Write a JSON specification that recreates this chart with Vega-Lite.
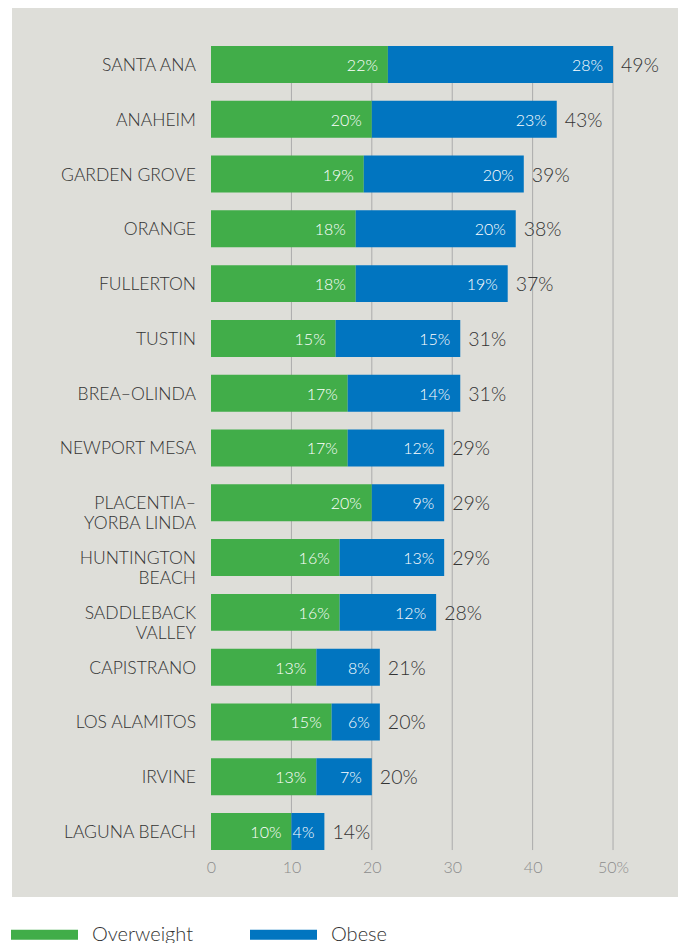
{
  "$schema": "https://vega.github.io/schema/vega-lite/v6.json",
  "width": 666,
  "height": 889,
  "padding": {"left": 11, "top": 8, "right": 3, "bottom": 0},
  "background": "white",
  "config": {"view": {"fill": "#DEDED9", "stroke": null}, "font": "Lato"},
  "datasets": {
    "bars": [
      {"city": "SANTA ANA", "group": "Overweight", "order": 1, "value": 22, "pct": "22%", "total": "49%"},
      {"city": "SANTA ANA", "group": "Obese", "order": 2, "value": 28, "pct": "28%", "total": "49%"},
      {"city": "ANAHEIM", "group": "Overweight", "order": 1, "value": 20, "pct": "20%", "total": "43%"},
      {"city": "ANAHEIM", "group": "Obese", "order": 2, "value": 23, "pct": "23%", "total": "43%"},
      {"city": "GARDEN GROVE", "group": "Overweight", "order": 1, "value": 19, "pct": "19%", "total": "39%"},
      {"city": "GARDEN GROVE", "group": "Obese", "order": 2, "value": 19.9, "pct": "20%", "total": "39%"},
      {"city": "ORANGE", "group": "Overweight", "order": 1, "value": 18, "pct": "18%", "total": "38%"},
      {"city": "ORANGE", "group": "Obese", "order": 2, "value": 19.9, "pct": "20%", "total": "38%"},
      {"city": "FULLERTON", "group": "Overweight", "order": 1, "value": 18, "pct": "18%", "total": "37%"},
      {"city": "FULLERTON", "group": "Obese", "order": 2, "value": 18.9, "pct": "19%", "total": "37%"},
      {"city": "TUSTIN", "group": "Overweight", "order": 1, "value": 15.5, "pct": "15%", "total": "31%"},
      {"city": "TUSTIN", "group": "Obese", "order": 2, "value": 15.5, "pct": "15%", "total": "31%"},
      {"city": "BREA–OLINDA", "group": "Overweight", "order": 1, "value": 17, "pct": "17%", "total": "31%"},
      {"city": "BREA–OLINDA", "group": "Obese", "order": 2, "value": 14, "pct": "14%", "total": "31%"},
      {"city": "NEWPORT MESA", "group": "Overweight", "order": 1, "value": 17, "pct": "17%", "total": "29%"},
      {"city": "NEWPORT MESA", "group": "Obese", "order": 2, "value": 12, "pct": "12%", "total": "29%"},
      {"city": "PLACENTIA–YORBA LINDA", "group": "Overweight", "order": 1, "value": 20, "pct": "20%", "total": "29%"},
      {"city": "PLACENTIA–YORBA LINDA", "group": "Obese", "order": 2, "value": 9, "pct": "9%", "total": "29%"},
      {"city": "HUNTINGTON BEACH", "group": "Overweight", "order": 1, "value": 16, "pct": "16%", "total": "29%"},
      {"city": "HUNTINGTON BEACH", "group": "Obese", "order": 2, "value": 13, "pct": "13%", "total": "29%"},
      {"city": "SADDLEBACK VALLEY", "group": "Overweight", "order": 1, "value": 16, "pct": "16%", "total": "28%"},
      {"city": "SADDLEBACK VALLEY", "group": "Obese", "order": 2, "value": 12, "pct": "12%", "total": "28%"},
      {"city": "CAPISTRANO", "group": "Overweight", "order": 1, "value": 13.1, "pct": "13%", "total": "21%"},
      {"city": "CAPISTRANO", "group": "Obese", "order": 2, "value": 7.9, "pct": "8%", "total": "21%"},
      {"city": "LOS ALAMITOS", "group": "Overweight", "order": 1, "value": 15, "pct": "15%", "total": "20%"},
      {"city": "LOS ALAMITOS", "group": "Obese", "order": 2, "value": 6, "pct": "6%", "total": "20%"},
      {"city": "IRVINE", "group": "Overweight", "order": 1, "value": 13.1, "pct": "13%", "total": "20%"},
      {"city": "IRVINE", "group": "Obese", "order": 2, "value": 6.9, "pct": "7%", "total": "20%"},
      {"city": "LAGUNA BEACH", "group": "Overweight", "order": 1, "value": 10, "pct": "10%", "total": "14%"},
      {"city": "LAGUNA BEACH", "group": "Obese", "order": 2, "value": 4.1, "pct": "4%", "total": "14%"}
    ],
    "cities": [
      {"city": "SANTA ANA", "label": "SANTA ANA"},
      {"city": "ANAHEIM", "label": "ANAHEIM"},
      {"city": "GARDEN GROVE", "label": "GARDEN GROVE"},
      {"city": "ORANGE", "label": "ORANGE"},
      {"city": "FULLERTON", "label": "FULLERTON"},
      {"city": "TUSTIN", "label": "TUSTIN"},
      {"city": "BREA–OLINDA", "label": "BREA–OLINDA"},
      {"city": "NEWPORT MESA", "label": "NEWPORT MESA"},
      {"city": "PLACENTIA–YORBA LINDA", "label": "PLACENTIA–|YORBA LINDA"},
      {"city": "HUNTINGTON BEACH", "label": "HUNTINGTON|BEACH"},
      {"city": "SADDLEBACK VALLEY", "label": "SADDLEBACK|VALLEY"},
      {"city": "CAPISTRANO", "label": "CAPISTRANO"},
      {"city": "LOS ALAMITOS", "label": "LOS ALAMITOS"},
      {"city": "IRVINE", "label": "IRVINE"},
      {"city": "LAGUNA BEACH", "label": "LAGUNA BEACH"}
    ],
    "grid": [{"g": 10}, {"g": 20}, {"g": 30}, {"g": 40}, {"g": 50}]
  },
  "layer": [
    {
      "data": {"name": "grid"},
      "mark": {"type": "rule", "color": "#ABABAB", "strokeWidth": 1},
      "encoding": {
        "x": {"field": "g", "type": "quantitative", "scale": {"domain": [-24.75, 58.08], "nice": false, "zero": false},
          "axis": {"values": [0, 10, 20, 30, 40, 50], "labelExpr": "datum.value == 50 ? '50%' : datum.label", "grid": false, "ticks": false, "domain": false, "title": null, "offset": -40, "labelPadding": 2, "labelFontSize": 16, "labelFontWeight": 300, "labelColor": "#8C8C8C", "labelFont": "Lato"}},
        "y": {"datum": "SANTA ANA", "type": "nominal", "bandPosition": 0},
        "y2": {"datum": "LAGUNA BEACH", "bandPosition": 1}
      }
    },
    {
      "data": {"name": "bars"},
      "transform": [
        {"stack": "value", "groupby": ["city"], "sort": [{"field": "order"}], "as": ["x0", "x1"]}
      ],
      "layer": [
        {
          "mark": {"type": "bar"},
          "encoding": {
            "x": {"field": "x0", "type": "quantitative"},
            "x2": {"field": "x1"},
            "y": {"field": "city", "type": "nominal", "sort": null, "scale": {"domain": ["SANTA ANA", "ANAHEIM", "GARDEN GROVE", "ORANGE", "FULLERTON", "TUSTIN", "BREA–OLINDA", "NEWPORT MESA", "PLACENTIA–YORBA LINDA", "HUNTINGTON BEACH", "SADDLEBACK VALLEY", "CAPISTRANO", "LOS ALAMITOS", "IRVINE", "LAGUNA BEACH"], "paddingInner": 0.325, "paddingOuter": 0.775, "align": 0.447}, "axis": null},
            "color": {"field": "group", "type": "nominal",
              "scale": {"domain": ["Overweight", "Obese"], "range": ["#41AD49", "#0175C0"]},
              "legend": {"orient": "none", "legendX": -1, "legendY": 893, "direction": "horizontal", "title": null, "symbolType": "M-1,-0.15H1V0.15H-1Z", "symbolSize": 4489, "symbolStrokeWidth": 0, "symbolOpacity": 1, "labelFontSize": 20, "labelFontWeight": 300, "labelColor": "#333333", "labelFont": "Lato", "labelOffset": 14, "columnPadding": 56, "padding": 0}}
          }
        },
        {
          "mark": {"type": "text", "align": "right", "baseline": "middle", "dx": -10, "dy": 1.5, "color": "white", "fontSize": 16, "fontWeight": 300},
          "encoding": {
            "x": {"field": "x1", "type": "quantitative"},
            "y": {"field": "city", "type": "nominal", "sort": null},
            "text": {"field": "pct"}
          }
        },
        {
          "transform": [{"filter": "datum.order == 2"}],
          "mark": {"type": "text", "align": "left", "baseline": "middle", "dx": 8, "dy": 1.5, "color": "#333333", "fontSize": 19.5, "fontWeight": 300},
          "encoding": {
            "x": {"field": "x1", "type": "quantitative"},
            "y": {"field": "city", "type": "nominal", "sort": null},
            "text": {"field": "total"}
          }
        }
      ]
    },
    {
      "data": {"name": "cities"},
      "mark": {"type": "text", "align": "right", "baseline": "middle", "dx": -15, "dy": 1.5, "color": "#333333", "fontSize": 17.5, "fontWeight": 300, "lineBreak": "|", "lineHeight": 20},
      "encoding": {
        "x": {"datum": 0, "type": "quantitative"},
        "y": {"field": "city", "type": "nominal", "sort": null},
        "text": {"field": "label"}
      }
    }
  ]
}
